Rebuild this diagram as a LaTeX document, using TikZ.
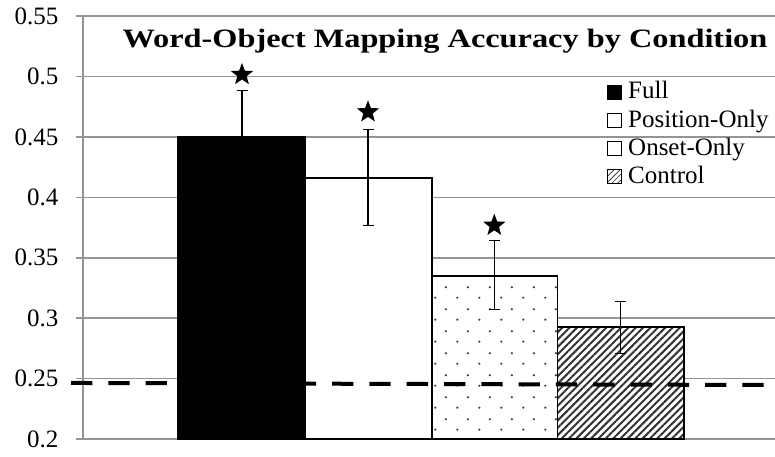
\documentclass[tikz,border=0pt]{standalone}
\usepackage{graphicx}
\usepackage{fontspec}
\setmainfont{Liberation Serif}
\usepackage{tikz}
\usetikzlibrary{arrows.meta,patterns.meta,shapes.geometric}

% sparse staggered dots for the onset bar
\pgfdeclarepattern{
  name=sparse dots,
  type=uncolored,
  bottom left={\pgfpoint{0pt}{0pt}},
  top right={\pgfpoint{21.5pt}{21.5pt}},
  tile size={\pgfpoint{21.5pt}{21.5pt}},
  code={
    \pgfpathcircle{\pgfpoint{5.4pt}{5.4pt}}{1.2pt}
    \pgfpathcircle{\pgfpoint{16.1pt}{16.1pt}}{1.2pt}
    \pgfusepath{fill}
  }
}

\tikzset{
  grid line/.style={draw=black!42, line width=1.5pt},
  bar/.style={draw=black, line width=1.8pt, preaction={fill=white}},
  dotted bar/.style={pattern=sparse dots, pattern color=black!75},
  hatched bar/.style={pattern={Lines[angle=45, distance=5.2pt, line width=2pt]}, pattern color=black!80},
  err bar/.style={line width=1.4pt, {Bar[width=11pt, line width=1.4pt]}-{Bar[width=11pt, line width=1.4pt]}},
  chance line/.style={line width=4pt, dash pattern=on 21.3pt off 16pt},
  sig star/.style={star, star points=5, star point ratio=2.4, fill=black, inner sep=0pt, minimum size=23.5pt},
  tick label/.style={anchor=east, inner sep=0pt, font=\fontsize{25}{30}\selectfont},
  key box/.style={draw=black, line width=1pt, minimum size=14pt, inner sep=0pt, preaction={fill=white}},
  key text/.style={anchor=base west, inner sep=0pt, font=\fontsize{25}{30}\selectfont},
}

\begin{document}
\begin{tikzpicture}[x=1pt, y=1pt]
    \useasboundingbox (0,0) rectangle (775,456);

    % data area: y is the accuracy value
    \begin{scope}[y=1208pt, yshift=-224.6pt]
        % grid and tick labels
        \foreach \v in {0.2,0.25,0.3,0.35,0.4,0.45,0.5,0.55} {
            \draw[grid line] (76,\v) -- (775,\v);
            \node[tick label] (tick\v) at (58.5,\v) {\v};
        }
        \draw[grid line] (83,0.2) -- (83,0.55);

        % bars
        \draw[bar, fill=black] (178,0.2) rectangle (305,0.45);
        \draw[bar] (305,0.2) rectangle (432,0.416);
        \draw[bar, dotted bar] (432,0.2) rectangle (557.5,0.3352);
        \draw[bar, hatched bar] (557.5,0.2) rectangle (684,0.2925);

        % error bars
        \foreach \x/\lo/\hi in {242/0.411/0.4889, 368/0.3763/0.4566, 494.3/0.3068/0.3647, 620.7/0.2704/0.3142}
            \draw[err bar] (\x,\lo) -- (\x,\hi);

        % chance level
        \draw[chance line] (71,0.2464) -- (766,0.2447);

        % significance stars
        \node[sig star] (starFull) at (242,0.5016) {};
        \node[sig star] (starPosition) at (368,0.4707) {};
        \node[sig star] (starOnset) at (494.3,0.3768) {};
    \end{scope}

    % title
    \node[anchor=base, inner sep=0pt] (title) at (445,408.3)
        {\scalebox{1.22}[1]{\fontsize{26.5}{30}\selectfont\bfseries Word-Object Mapping Accuracy by Condition}};

    % legend
    \node[key box, fill=black] (keyFull) at (614,363.7) {};
    \node[key text] (labelFull) at (628,357) {Full};
    \node[key box] (keyPosition) at (614,335.7) {};
    \node[key text] (labelPosition) at (628,329) {Position-Only};
    \node[key box] (keyOnset) at (614,307.7) {};
    \node[key text] (labelOnset) at (628,301) {Onset-Only};
    \node[key box, pattern={Lines[angle=45, distance=4pt, line width=1.2pt]}, pattern color=black!70] (keyControl) at (614,279.7) {};
    \node[key text] (labelControl) at (628,273) {Control};
\end{tikzpicture}
\end{document}
